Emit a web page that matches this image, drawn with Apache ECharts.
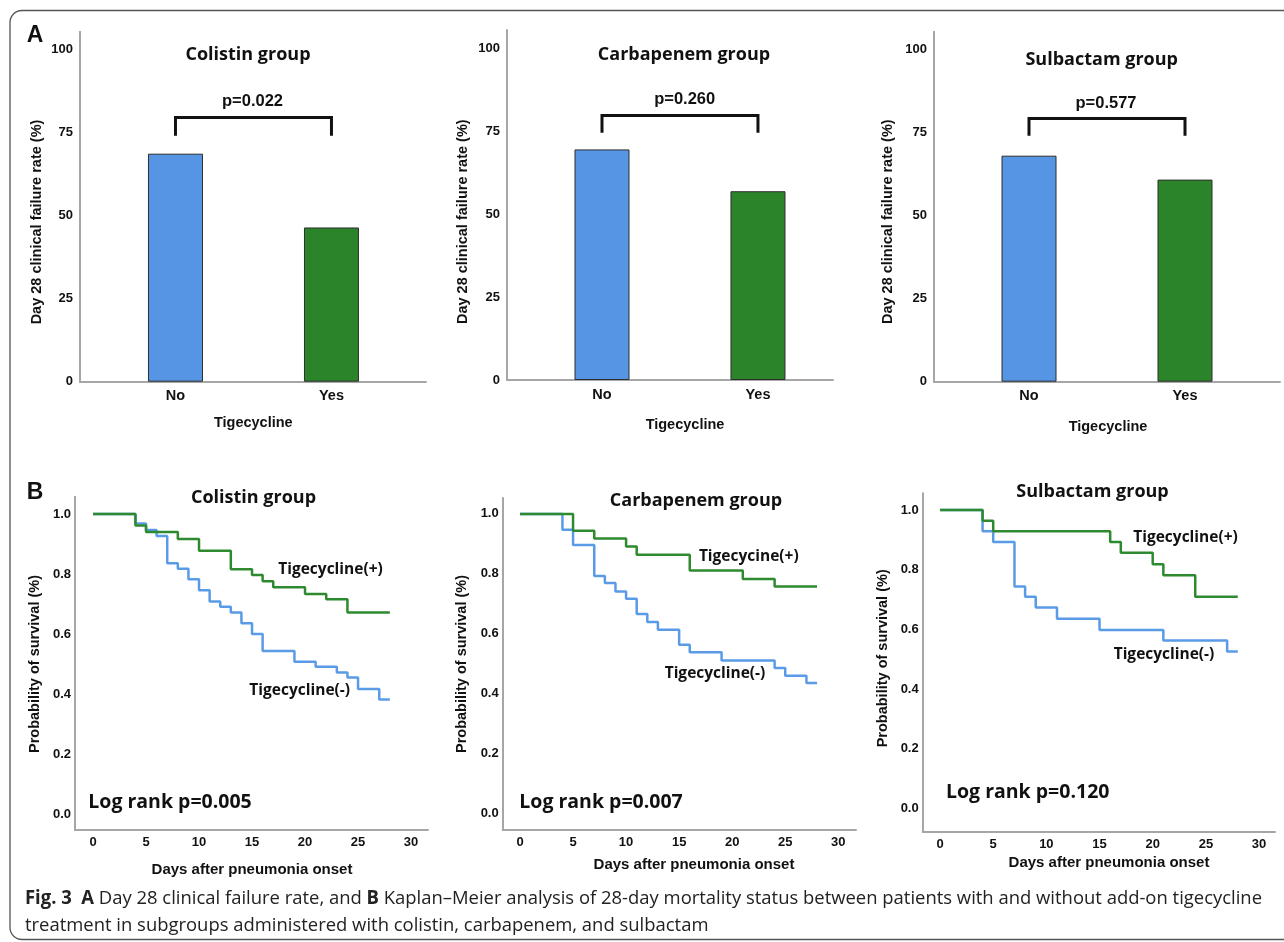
<!DOCTYPE html>
<html><head><meta charset="utf-8">
<script src="https://cdn.jsdelivr.net/npm/echarts@6/dist/echarts.min.js"></script>
<style>html,body{margin:0;padding:0;background:#fff}#c{width:1284px;height:942px}</style>
</head><body><div id="c"></div>
<script>
// ---------------- DATA ----------------
const barCategories = ['No', 'Yes'];
const groupNames = ['Colistin group', 'Carbapenem group', 'Sulbactam group'];
const failureRateNo = [68.6, 69.5, 68.0];
const failureRateYes = [46.4, 56.9, 60.8];
const barPValues = ['p=0.022', 'p=0.260', 'p=0.577'];
const bracketLow = [74, 74.5, 74];
const bracketHigh = [79.5, 79.7, 79.2];
const barYTicks = [0, 25, 50, 75, 100];

const kmXTicks = [0, 5, 10, 15, 20, 25, 30];
const kmYTicks = [0, 0.2, 0.4, 0.6, 0.8, 1.0];
const logRankP = ['Log rank p=0.005', 'Log rank p=0.007', 'Log rank p=0.120'];
const posLabels = ['Tigecycline(+)', 'Tigecycine(+)', 'Tigecycline(+)'];
const negLabels = ['Tigecycline(-)', 'Tigecycline(-)', 'Tigecycline(-)'];

const colistinPosDays = [0, 4, 5, 8, 10, 13, 15, 16, 17, 20, 22, 24, 28];
const colistinPosSurv = [1.0, 0.962, 0.940, 0.917, 0.878, 0.816, 0.797, 0.776, 0.756, 0.734, 0.716, 0.672, 0.672];
const colistinNegDays = [0, 4, 5, 6, 7, 8, 9, 10, 11, 12, 13, 14, 15, 16, 19, 21, 23, 24, 25, 27, 28];
const colistinNegSurv = [1.0, 0.969, 0.947, 0.927, 0.836, 0.818, 0.783, 0.746, 0.709, 0.691, 0.672, 0.636, 0.600, 0.544, 0.508, 0.491, 0.472, 0.455, 0.417, 0.382, 0.382];

const carbapenemPosDays = [0, 5, 7, 10, 11, 16, 21, 24, 28];
const carbapenemPosSurv = [1.0, 0.944, 0.918, 0.891, 0.864, 0.811, 0.783, 0.758, 0.758];
const carbapenemNegDays = [0, 4, 5, 7, 8, 9, 10, 11, 12, 13, 15, 16, 19, 24, 25, 27, 28];
const carbapenemNegSurv = [1.0, 0.947, 0.896, 0.793, 0.769, 0.741, 0.717, 0.666, 0.639, 0.613, 0.563, 0.538, 0.511, 0.486, 0.460, 0.436, 0.436];

const sulbactamPosDays = [0, 4, 5, 16, 17, 20, 21, 24, 28];
const sulbactamPosSurv = [1.0, 0.964, 0.929, 0.893, 0.857, 0.818, 0.781, 0.709, 0.709];
const sulbactamNegDays = [0, 4, 5, 7, 8, 9, 11, 15, 21, 27, 28];
const sulbactamNegSurv = [1.0, 0.929, 0.893, 0.744, 0.709, 0.673, 0.636, 0.598, 0.563, 0.526, 0.526];

const captionLine1 = ['Fig. 3', 'A', ' Day 28 clinical failure rate, and ', 'B', ' Kaplan\u2013Meier analysis of 28-day mortality status between patients with and without add-on tigecycline'];
const captionLine2 = 'treatment in subgroups administered with colistin, carbapenem, and sulbactam';

// ---------------- STYLE / LAYOUT ----------------
const BAR_BLUE = '#5595E3', BAR_GREEN = '#2B8429';
const KM_BLUE = '#5A9BE8', KM_GREEN = '#2E8A2E';
const AXIS_COLOR = '#a6a6a6';
const ARIAL = '"Liberation Sans", Arial, sans-serif';
const SEGOE = '"Open Sans", "Noto Sans", sans-serif';

const barGrids = [
  {left: 80, top: 31.7, width: 346, height: 350, xMin: 0.388, xMax: 2.606, yMax: 105.3},
  {left: 507, top: 30, width: 326, height: 350, xMin: 0.391, xMax: 2.481, yMax: 105.5},
  {left: 934, top: 31.7, width: 346, height: 350, xMin: 0.391, xMax: 2.609, yMax: 105.3}
];
const kmGrids = [
  {left: 75, top: 496.7, width: 353, height: 333.3, xMin: -1.70, xMax: 31.6, yMin: -0.053, yMax: 1.058},
  {left: 502.7, top: 498, width: 353.3, height: 332, xMin: -1.63, xMax: 31.67, yMin: -0.055, yMax: 1.053},
  {left: 922.7, top: 493.3, width: 352.3, height: 338.4, xMin: -1.63, xMax: 31.5, yMin: -0.078, yMax: 1.056}
];
const kmSets = [
  [colistinNegDays, colistinNegSurv, colistinPosDays, colistinPosSurv],
  [carbapenemNegDays, carbapenemNegSurv, carbapenemPosDays, carbapenemPosSurv],
  [sulbactamNegDays, sulbactamNegSurv, sulbactamPosDays, sulbactamPosSurv]
];

const zip = (xs, ys) => xs.map((x, i) => [x, ys[i]]);

const grid = [], xAxis = [], yAxis = [], series = [];
const axisLineStyle = {show: true, onZero: false, lineStyle: {color: AXIS_COLOR, width: 2}};

barGrids.forEach((g, i) => {
  grid.push({left: g.left, top: g.top, width: g.width, height: g.height, outerBoundsMode: 'none', containLabel: false});
  xAxis.push({
    type: 'value', gridIndex: i, min: g.xMin, max: g.xMax,
    axisLine: axisLineStyle, axisTick: {show: false}, splitLine: {show: false},
    axisLabel: {customValues: [1, 2], formatter: v => barCategories[Math.round(v) - 1] || '',
      fontFamily: ARIAL, fontWeight: 'bold', fontSize: 14.5, color: '#111', margin: 7, showMinLabel: true, showMaxLabel: true}
  });
  yAxis.push({
    type: 'value', gridIndex: i, min: 0, max: g.yMax,
    axisLine: axisLineStyle, axisTick: {show: false}, splitLine: {show: false},
    axisLabel: {customValues: barYTicks, fontFamily: ARIAL, fontWeight: 'bold', fontSize: 13, color: '#111', margin: 7}
  });
  series.push({
    type: 'bar', xAxisIndex: i, yAxisIndex: i, barWidth: 55, silent: true,
    data: [
      {value: [1, failureRateNo[i]], itemStyle: {color: BAR_BLUE}},
      {value: [2, failureRateYes[i]], itemStyle: {color: BAR_GREEN}}
    ],
    itemStyle: {borderColor: '#2d2d2d', borderWidth: 1}
  });
  series.push({
    type: 'line', xAxisIndex: i, yAxisIndex: i, silent: true, symbol: 'none',
    data: [[1, bracketLow[i]], [1, bracketHigh[i]], [2, bracketHigh[i]], [2, bracketLow[i]]],
    lineStyle: {color: '#111', width: 3, cap: 'butt', join: 'miter'}
  });
});

kmGrids.forEach((g, k) => {
  const i = k + 3;
  grid.push({left: g.left, top: g.top, width: g.width, height: g.height, outerBoundsMode: 'none', containLabel: false});
  xAxis.push({
    type: 'value', gridIndex: i, min: g.xMin, max: g.xMax,
    axisLine: axisLineStyle, axisTick: {show: false}, splitLine: {show: false},
    axisLabel: {customValues: kmXTicks, fontFamily: ARIAL, fontWeight: 'bold', fontSize: 13, color: '#111', margin: 6}
  });
  yAxis.push({
    type: 'value', gridIndex: i, min: g.yMin, max: g.yMax,
    axisLine: axisLineStyle, axisTick: {show: false}, splitLine: {show: false},
    axisLabel: {customValues: kmYTicks, formatter: v => v.toFixed(1), fontFamily: ARIAL, fontWeight: 'bold', fontSize: 13, color: '#111', margin: 4}
  });
  const s = kmSets[k];
  series.push({type: 'line', xAxisIndex: i, yAxisIndex: i, step: 'end', symbol: 'none', silent: true,
    data: zip(s[0], s[1]), lineStyle: {color: KM_BLUE, width: 2.5}});
  series.push({type: 'line', xAxisIndex: i, yAxisIndex: i, step: 'end', symbol: 'none', silent: true,
    data: zip(s[2], s[3]), lineStyle: {color: KM_GREEN, width: 2.5}});
});

// ---------------- TEXT ----------------
function txt(x, y, text, font, size, opts) {
  opts = opts || {};
  return {
    type: 'text', x: x, y: y, rotation: opts.rot || 0, silent: true, z: 10,
    style: {text: text, fontFamily: font, fontSize: size, fontWeight: opts.weight || 'bold',
      fill: opts.color || '#111', align: opts.align || 'center', verticalAlign: 'middle'}
  };
}
const graphic = [];
graphic.push({type: 'rect', shape: {x: 10, y: 10.5, width: 1320, height: 929, r: 12}, silent: true,
  style: {fill: 'none', stroke: '#555', lineWidth: 1.3}});
graphic.push(txt(35, 36, 'A', ARIAL, 23));
graphic.push(txt(35, 493, 'B', ARIAL, 23));

const barTitlePos = [[248, 55], [684, 55], [1101.7, 60]];
const barPPos = [[252.5, 101.7], [684.7, 99.3], [1106, 103.3]];
const barYTitlePos = [[36.5, 222], [463.3, 221.7], [888.3, 221.7]];
const barXTitlePos = [[253.3, 423.3], [685, 425], [1108, 426.7]];
for (let i = 0; i < 3; i++) {
  graphic.push(txt(barTitlePos[i][0], barTitlePos[i][1], groupNames[i], SEGOE, 18));
  graphic.push(txt(barPPos[i][0], barPPos[i][1], barPValues[i], ARIAL, 16.5));
  graphic.push(txt(barYTitlePos[i][0], barYTitlePos[i][1], 'Day 28 clinical failure rate (%)', ARIAL, 14.5, {rot: Math.PI / 2}));
  graphic.push(txt(barXTitlePos[i][0], barXTitlePos[i][1], 'Tigecycline', ARIAL, 14.5));
}
const kmTitlePos = [[253.5, 498.3], [696, 500.7], [1092.5, 491.7]];
const kmYTitlePos = [[35, 664], [461.7, 664], [883, 658.3]];
const kmXTitlePos = [[252, 870], [694, 865], [1109, 863.3]];
const kmPosLabelPos = [[330.5, 569.3], [748.8, 556.7], [1185.5, 537.7]];
const kmNegLabelPos = [[299.7, 690.7], [715, 673.3], [1164, 654.3]];
const kmLogPos = [[88.3, 802], [519.3, 802], [946, 792.8]];
for (let i = 0; i < 3; i++) {
  graphic.push(txt(kmTitlePos[i][0], kmTitlePos[i][1], groupNames[i], SEGOE, 18));
  graphic.push(txt(kmYTitlePos[i][0], kmYTitlePos[i][1], 'Probability of survival (%)', ARIAL, 14.5, {rot: Math.PI / 2}));
  graphic.push(txt(kmXTitlePos[i][0], kmXTitlePos[i][1], 'Days after pneumonia onset', ARIAL, 15));
  graphic.push(txt(kmPosLabelPos[i][0], kmPosLabelPos[i][1], posLabels[i], SEGOE, 15.5));
  graphic.push(txt(kmNegLabelPos[i][0], kmNegLabelPos[i][1], negLabels[i], SEGOE, 15.5));
  graphic.push(txt(kmLogPos[i][0], kmLogPos[i][1], logRankP[i], SEGOE, 19.5, {align: 'left'}));
}

// caption (condensed via horizontal scale to match reference width)
const CAP_SIZE = 19;
const ctx = document.createElement('canvas').getContext('2d');
function w(t, bold) { ctx.font = (bold ? 'bold ' : '') + CAP_SIZE + 'px "Open Sans"'; return ctx.measureText(t).width; }
const line1Width = w(captionLine1[0], true) + w('  ', false) + w(captionLine1[1], true) + w(captionLine1[2], false) + w(captionLine1[3], true) + w(captionLine1[4], false);
const capScale = 1237 / line1Width;
const capRich = {b: {fontWeight: 'bold', fontFamily: '"Open Sans"', fontSize: CAP_SIZE, fill: '#222'},
  r: {fontWeight: 'normal', fontFamily: '"Open Sans"', fontSize: CAP_SIZE, fill: '#222'}};
graphic.push({type: 'text', x: 25, y: 898.5, scaleX: capScale, silent: true,
  style: {text: '{b|' + captionLine1[0] + '}{r|  }{b|' + captionLine1[1] + '}{r|' + captionLine1[2] + '}{b|' + captionLine1[3] + '}{r|' + captionLine1[4] + '}',
    rich: capRich, align: 'left', verticalAlign: 'middle', fontFamily: '"Open Sans"', fontSize: CAP_SIZE}});
graphic.push({type: 'text', x: 25, y: 925.5, scaleX: capScale, silent: true,
  style: {text: captionLine2, fontFamily: '"Open Sans"', fontSize: CAP_SIZE, fill: '#222', align: 'left', verticalAlign: 'middle'}});

const chart = echarts.init(document.getElementById('c'), null, {renderer: 'canvas'});
chart.setOption({
  backgroundColor: '#fff',
  animation: false,
  grid: grid, xAxis: xAxis, yAxis: yAxis, series: series, graphic: graphic
});
</script></body></html>
